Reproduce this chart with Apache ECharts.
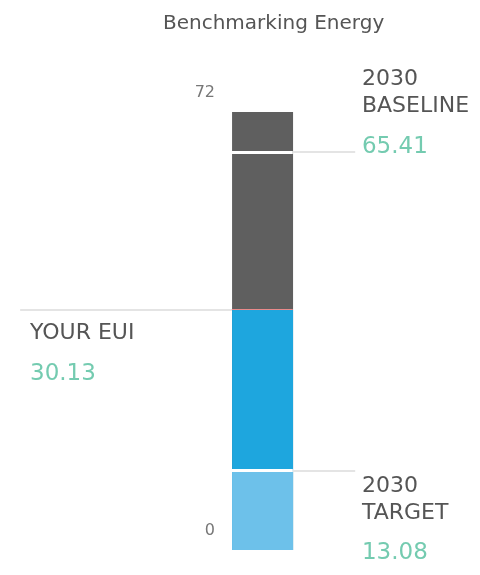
<!DOCTYPE html>
<html>
<head>
<meta charset="utf-8">
<script src="https://cdn.jsdelivr.net/npm/echarts@6/dist/echarts.min.js"></script>
<style>
  html, body { margin: 0; padding: 0; background: #fff; }
  #chart { width: 480px; height: 575px; }
</style>
</head>
<body>
<div id="chart"></div>
<script>
// segments of the single bar, as the value at the top of each (bottom -> top)
var segNames = ['2030 TARGET', 'YOUR EUI', '2030 BASELINE'];
var segTops = [13.08, 39.5, 72];
var segColors = ['#6dc1ea', '#1ea6de', '#5f5f5f'];

// the three figures written next to the bar
var targetEUI = 13.08;
var yourEUI = 30.13;
var baselineEUI = 65.41;

var yMin = 0, yMax = 72;
var yTicks = [0, 72];

var barX = 54.7;          // bar centre on the 0-100 horizontal scale
var barLeft = 48.3, barRight = 61;

var chart = echarts.init(document.getElementById('chart'));

var font = 'DejaVu Sans, sans-serif';
var rich = {
  a: { fontFamily: font, fontSize: 22, color: '#555', lineHeight: 27 },
  v: { fontFamily: font, fontSize: 23, color: '#74cbb0', lineHeight: 54 }
};

function block(top, bottom, val) {
  return '{a|' + top + '}\n{a|' + bottom + '}\n{v|' + val.toFixed(2) + '}';
}

// overlapping bars, tallest first so the shorter ones sit on top
var series = [];
for (var i = segTops.length - 1; i >= 0; i--) {
  series.push({
    name: segNames[i],
    type: 'bar',
    barWidth: 61,
    barGap: '-100%',
    itemStyle: { color: segColors[i] },
    data: [[barX, segTops[i]]]
  });
}

var last = series[series.length - 1];
last.markLine = {
  silent: true,
  symbol: 'none',
  label: { show: false },
  data: [
    [{ coord: [barLeft, baselineEUI], lineStyle: { color: '#fff', width: 3, type: 'solid' } }, { coord: [barRight, baselineEUI] }],
    [{ coord: [barRight, baselineEUI], lineStyle: { color: '#e4e4e4', width: 2, type: 'solid' } }, { coord: [74, baselineEUI] }],
    [{ coord: [barLeft, targetEUI], lineStyle: { color: '#fff', width: 3, type: 'solid' } }, { coord: [barRight, targetEUI] }],
    [{ coord: [barRight, targetEUI], lineStyle: { color: '#e4e4e4', width: 2, type: 'solid' } }, { coord: [74, targetEUI] }],
    [{ coord: [4.2, segTops[1]], lineStyle: { color: '#e4e4e4', width: 2, type: 'solid' } }, { coord: [barLeft, segTops[1]] }],
    [{ coord: [barLeft, segTops[1]], lineStyle: { color: '#e98a8a', width: 1, type: 'solid' } }, { coord: [barRight, segTops[1]] }]
  ]
};

last.markPoint = {
  silent: true,
  symbol: 'circle',
  symbolSize: 0,
  data: [
    { coord: [75.4, baselineEUI], label: { show: true, position: [0, 0], align: 'left', verticalAlign: 'bottom', offset: [0, 22], formatter: block('2030', 'BASELINE', baselineEUI), rich: rich } },
    { coord: [6.25, segTops[1]], label: { show: true, position: [0, 0], align: 'left', verticalAlign: 'top', offset: [0, 10], formatter: '{a|YOUR EUI}\n{v|' + yourEUI.toFixed(2) + '}', rich: rich } },
    { coord: [75.4, targetEUI], label: { show: true, position: [0, 0], align: 'left', verticalAlign: 'top', offset: [0, 2], formatter: block('2030', 'TARGET', targetEUI), rich: rich } }
  ]
};

chart.setOption({
  animation: false,
  title: {
    text: 'Benchmarking Energy',
    left: 158,
    top: 9,
    textStyle: { fontFamily: font, fontSize: 20, fontWeight: 'normal', color: '#555' }
  },
  grid: { left: 0, right: 0, top: 112, bottom: 25, outerBoundsMode: 'none' },
  xAxis: { type: 'value', min: 0, max: 100, show: false },
  yAxis: {
    type: 'value',
    min: yMin,
    max: yMax,
    interval: 72,
    offset: -232,
    axisLine: { show: false },
    axisTick: { show: false },
    splitLine: { show: false },
    axisLabel: {
      margin: 17,
      fontFamily: font,
      fontSize: 16,
      color: '#777',
      lineHeight: 38,
      formatter: function (v) { return yTicks.indexOf(v) >= 0 ? v + '\n' : ''; }
    }
  },
  series: series
});
</script>
</body>
</html>
